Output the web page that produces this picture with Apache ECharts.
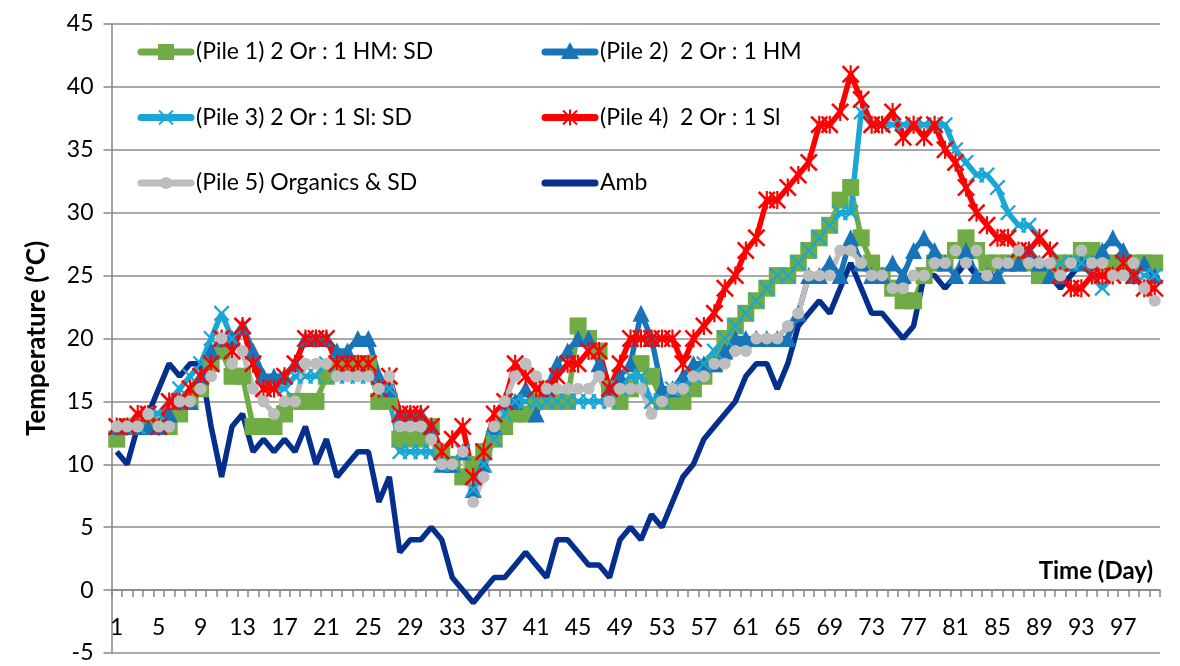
<!DOCTYPE html>
<html>
<head>
<meta charset="utf-8">
<script src="https://cdn.jsdelivr.net/npm/echarts@6/dist/echarts.min.js"></script>
<style>
  html, body { margin: 0; padding: 0; background: #fff; }
  #chart { width: 1180px; height: 666px; }
</style>
</head>
<body>
<div id="chart"></div>
<script>
var days = [1,2,3,4,5,6,7,8,9,10,11,12,13,14,15,16,17,18,19,20,
  21,22,23,24,25,26,27,28,29,30,31,32,33,34,35,36,37,38,39,40,
  41,42,43,44,45,46,47,48,49,50,51,52,53,54,55,56,57,58,59,60,
  61,62,63,64,65,66,67,68,69,70,71,72,73,74,75,76,77,78,79,80,
  81,82,83,84,85,86,87,88,89,90,91,92,93,94,95,96,97,98,99,100];

var seriesNames = ['(Pile 1) 2 Or : 1 HM: SD', '(Pile 2)  2 Or : 1 HM', '(Pile 3) 2 Or : 1 Sl: SD',
  '(Pile 4)  2 Or : 1 Sl', '(Pile 5) Organics & SD', 'Amb'];

var pile1 = [12,13,13,13,13,13,14,15,16,18, 19,17,17,13,13,13,14,15,15,15,
  17,18,18,18,18,15,15,12,12,12, 13,11,10,9,10,11,12,13,14,14,
  15,15,15,15,21,20,19,16,15,16, 18,17,15,15,15,16,17,18,20,21,
  22,23,24,25,25,26,27,28,29,31, 32,28,26,25,24,23,23,25,26,26,
  27,28,27,26,26,26,26,26,25,25, 26,26,27,27,26,26,26,26,26,26];

var pile2 = [13,13,13,13,13,14,15,15,17,19, 20,20,21,19,17,17,17,18,20,20,
  20,19,19,20,20,17,16,14,14,14, 13,10,10,11,8,10,13,15,15,16,
  14,16,18,19,20,20,18,16,17,18, 22,20,16,16,17,18,18,18,19,20,
  20,20,20,20,20,22,25,25,26,25, 28,26,25,25,26,25,27,28,27,26,
  25,27,25,25,25,26,26,27,26,25, 25,26,26,26,27,28,27,25,26,25];

var pile3 = [13,13,13,14,14,15,16,17,18,20, 22,20,21,18,16,16,16,17,17,17,
  18,17,17,17,17,16,16,11,11,11, 11,10,10,11,8,10,12,14,15,15,
  15,15,15,15,15,15,15,15,16,17, 17,15,15,16,16,17,18,19,20,21,
  22,23,24,25,25,26,27,28,29,30, 30,38,37,37,37,37,37,37,37,37,
  35,34,33,33,32,30,29,29,28,27, 26,26,26,25,24,25,26,25,25,25];

var pile4 = [13,13,14,14,13,15,15,16,17,18, 20,19,21,18,16,16,17,18,20,20,
  20,18,18,18,18,16,17,14,14,14, 13,11,12,13,9,11,14,15,18,17,
  16,16,17,18,18,19,19,16,18,20, 20,20,20,20,18,20,21,22,24,25,
  27,28,31,31,32,33,34,37,37,38, 41,39,37,37,38,36,37,36,37,35,
  34,32,30,29,28,28,27,27,28,27, 25,24,24,25,25,25,26,25,24,24];

var pile5 = [13,13,13,14,13,13,15,15,16,17, 20,18,19,16,15,14,15,15,18,18,
  18,17,17,17,17,16,17,13,13,13, 12,10,10,11,7,9,13,15,17,18,
  17,16,16,16,16,16,17,15,16,16, 16,14,15,16,16,17,17,18,18,19,
  19,20,20,20,21,22,25,25,25,27, 27,26,25,25,24,24,25,25,26,26,
  27,26,27,25,26,26,27,26,26,26, 25,26,27,26,26,25,25,26,24,23];

var amb = [11,10,13,14,16,18,17,18,18,13, 9,13,14,11,12,11,12,11,13,10,
  12,9,10,11,11,7,9,3,4,4, 5,4,1,0,-1,0,1,1,2,3,
  2,1,4,4,3,2,2,1,4,5, 4,6,5,7,9,10,12,13,14,15,
  17,18,18,16,18,21,22,23,22,24, 26,24,22,22,21,20,21,25,25,24,
  25,26,25,25,26,26,27,26,25,25, 24,25,26,26,26,26,27,25,26,25];

var FONT = 'Lato';
var colors = ['#6FAC46', '#1874B8', '#1AA7D6', '#FF0000', '#BDBDBD', '#042F8C'];
var markers = ['rect', 'triangle', 'cross', 'star', 'circle', 'none'];

var crossPath = 'path://M1,0 L5,4 L9,0 L10,1 L6,5 L10,9 L9,10 L5,6 L1,10 L0,9 L4,5 L0,1 Z';
var starPath = 'path://M1,0 L5,4 L9,0 L10,1 L6,5 L10,9 L9,10 L5,6 L1,10 L0,9 L4,5 L0,1 Z M4.4,0 L5.6,0 L5.6,10 L4.4,10 Z';

function lineSeries(name, data, color, symbol, size) {
  return {
    name: name,
    type: 'line',
    data: data,
    symbol: symbol,
    symbolSize: size,
    showSymbol: symbol !== 'none',
    showAllSymbol: true,
    lineStyle: { color: color, width: 5.5 },
    itemStyle: { color: color },
    animation: false
  };
}

// legend drawn as graphic elements (two columns, three rows)
function legendEntry(x, y, name, color, marker) {
  var cx = x + 28;
  var els = [{
    type: 'line',
    shape: { x1: x + 3, y1: y, x2: x + 53, y2: y },
    style: { stroke: color, lineWidth: 7, lineCap: 'round' }
  }];
  if (marker === 'rect') {
    els.push({ type: 'rect', shape: { x: cx - 8, y: y - 8, width: 16, height: 16 }, style: { fill: color } });
  } else if (marker === 'triangle') {
    els.push({ type: 'polygon', shape: { points: [[cx, y - 10], [cx + 9, y + 7], [cx - 9, y + 7]] }, style: { fill: color } });
  } else if (marker === 'cross' || marker === 'star') {
    els.push({ type: 'line', shape: { x1: cx - 7, y1: y - 7, x2: cx + 7, y2: y + 7 }, style: { stroke: color, lineWidth: 2 } });
    els.push({ type: 'line', shape: { x1: cx + 7, y1: y - 7, x2: cx - 7, y2: y + 7 }, style: { stroke: color, lineWidth: 2 } });
    if (marker === 'star') {
      els.push({ type: 'line', shape: { x1: cx, y1: y - 8, x2: cx, y2: y + 8 }, style: { stroke: color, lineWidth: 2 } });
    }
  } else if (marker === 'circle') {
    els.push({ type: 'circle', shape: { cx: cx, cy: y, r: 6 }, style: { fill: color } });
  }
  els.push({
    type: 'text',
    x: x + 58,
    y: y,
    style: { text: name, fill: '#000', fontFamily: FONT, fontSize: 23, verticalAlign: 'middle' }
  });
  return els;
}

var legendCols = [138, 542];
var legendRows = [52, 117.5, 183];
var legendGraphics = [];
for (var i = 0; i < seriesNames.length; i++) {
  legendGraphics = legendGraphics.concat(
    legendEntry(legendCols[i % 2], legendRows[Math.floor(i / 2)], seriesNames[i], colors[i], markers[i]));
}

var option = {
  animation: false,
  backgroundColor: '#fff',
  title: {
    text: 'Time (Day)',
    right: 22,
    top: 554,
    textStyle: { fontFamily: FONT, fontSize: 24, fontWeight: 'bold', color: '#000' }
  },
  graphic: legendGraphics,
  grid: {
    left: 111.5,
    right: 20,
    top: 24,
    bottom: 13,
    containLabel: false,
    outerBoundsMode: 'none'
  },
  xAxis: {
    type: 'category',
    data: days,
    boundaryGap: true,
    position: 'bottom',
    offset: -62.9,
    axisLine: { onZero: false, lineStyle: { color: '#868686', width: 1.5 } },
    axisTick: { show: true, interval: 0, length: 7, lineStyle: { color: '#868686', width: 1.5 } },
    axisLabel: { interval: 3, fontFamily: FONT, fontSize: 23, color: '#000', margin: 26 },
    splitLine: { show: false }
  },
  yAxis: {
    type: 'value',
    min: -5,
    max: 45,
    interval: 5,
    name: 'Temperature (ºC)',
    nameLocation: 'middle',
    nameGap: 62,
    nameTextStyle: { fontFamily: FONT, fontSize: 26, fontWeight: 'bold', color: '#000' },
    axisLine: { show: true, lineStyle: { color: '#868686', width: 1.5 } },
    axisTick: { show: true, length: 8, lineStyle: { color: '#868686', width: 1.5 } },
    axisLabel: { fontFamily: FONT, fontSize: 23, color: '#000', margin: 18 },
    splitLine: { lineStyle: { color: '#8c8c8c', width: 1.5 } }
  },
  series: [
    lineSeries(seriesNames[0], pile1, colors[0], 'rect', 17),
    lineSeries(seriesNames[1], pile2, colors[1], 'triangle', 17),
    lineSeries(seriesNames[2], pile3, colors[2], crossPath, 16),
    lineSeries(seriesNames[3], pile4, colors[3], starPath, 18),
    lineSeries(seriesNames[4], pile5, colors[4], 'circle', 12),
    lineSeries(seriesNames[5], amb, colors[5], 'none', 0)
  ]
};

var myChart = echarts.init(document.getElementById('chart'));
myChart.setOption(option);
</script>
</body>
</html>
